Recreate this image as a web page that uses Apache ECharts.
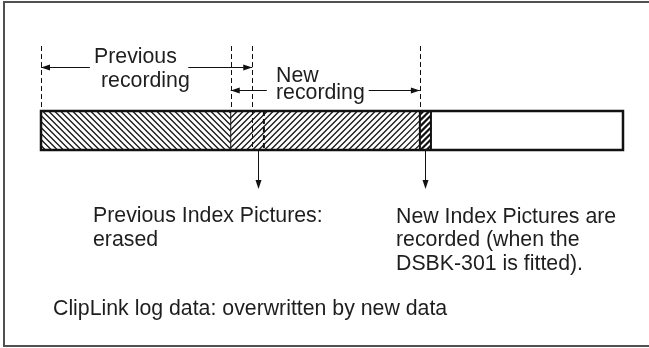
<!DOCTYPE html>
<html><head><meta charset="utf-8">
<script src="https://cdn.jsdelivr.net/npm/echarts@6/dist/echarts.min.js"></script>
<style>html,body{margin:0;padding:0;background:#fff}#c{width:649px;height:348px}</style>
</head><body><div id="c"></div>
<script>
// ---- data (tape position, 0..100 = full tape length) ----
const tapeLength = 100;
const previousRecording = [0, 36.3];
const newRecording = [32.6, 65.1];
const previousIndexPictures = [36.3, 38.3];
const newIndexPictures = [65.1, 67.0];
const spanLabelsPrev = ['Previous', 'recording'];
const spanLabelsNew = ['New', 'recording'];
const noteOldIndex = ['Previous Index Pictures:', 'erased'];
const noteNewIndex = ['New Index Pictures are', 'recorded (when the', 'DSBK-301 is fitted).'];
const noteLog = 'ClipLink log data: overwritten by new data';

// ---- layout ----
const BAR_TOP = 111, BAR_BOT = 150, GUIDE_TOP = 46;
const INK = '#111';
const FONT = '21.3px "Liberation Sans", Arial, sans-serif';
const TXT = '#1e1e1e';

const chart = echarts.init(document.getElementById('c'), null, {renderer: 'canvas'});
function px(api, v) { return api.coord([v, 0])[0]; }

function hatch(x0, x1, dir, lw) {
  const out = [];
  const h = BAR_BOT - BAR_TOP, step = 6;
  const kS = Math.floor((x0 - h) / step) - 1, kE = Math.ceil(x1 / step) + 1;
  for (let k = kS; k <= kE; k++) {
    const c = k * step + 0.5;
    const sx = Math.max(c, x0), ex = Math.min(c + h, x1);
    if (ex <= sx) continue;
    const yAt = x => dir === 0 ? BAR_TOP + (x - c) : BAR_BOT - (x - c);
    out.push({type: 'line', shape: {x1: sx, y1: yAt(sx), x2: ex, y2: yAt(ex)},
      style: {stroke: INK, lineWidth: lw}});
  }
  return out;
}

// segments: [start, end, kind] kind 0 = old (\\), 1 = new (//), 2 = new index (bold //)
const segments = [
  [previousRecording[0], newRecording[0], 0],
  [newRecording[0], newRecording[1], 1],
  [newIndexPictures[0], newIndexPictures[1], 2]
];
// guides above bar: [pos, extendsThroughBar]
const guides = [
  [previousRecording[0], 0],
  [newRecording[0], 0],
  [previousRecording[1], 1],
  [newRecording[1], 0]
];
// dividers in bar: [pos, width, dashed]
const dividers = [
  [newRecording[0], 1, 0],
  [previousIndexPictures[1], 2, 1],
  [newIndexPictures[0], 2, 0],
  [newIndexPictures[1], 2, 0]
];
// spans: [start, end, y, gapStart, gapEnd]
const spans = [
  [previousRecording[0], previousRecording[1], 67, 8.4, 25.3],
  [newRecording[0], newRecording[1], 90, 38.8, 56.3]
];
const pointers = [
  [(previousIndexPictures[0] + previousIndexPictures[1]) / 2],
  [(newIndexPictures[0] + newIndexPictures[1]) / 2]
];

function arrowHead(x, y, dx, dy) {
  const L = 9, W = 3;
  const bx = x - dx * L, by = y - dy * L;
  return {type: 'polygon', shape: {points: [[x, y], [bx - dy * W, by + dx * W], [bx + dy * W, by - dx * W]]},
    style: {fill: INK}};
}

const base = {type: 'custom', coordinateSystem: 'cartesian2d', animation: false, silent: true};

function t(text, x, baseline) {
  return {type: 'text', x: x, y: baseline - 7, style: {text: text, font: FONT, fill: TXT, verticalAlign: 'middle', align: 'left'}};
}

const texts = [
  t(spanLabelsPrev[0], 94, 64), t(spanLabelsPrev[1], 101, 88),
  t(spanLabelsNew[0], 276, 83), t(spanLabelsNew[1], 276, 100),
  t(noteOldIndex[0], 93, 223), t(noteOldIndex[1], 93, 247),
  t(noteNewIndex[0], 396, 224), t(noteNewIndex[1], 396, 247), t(noteNewIndex[2], 396, 271),
  t(noteLog, 53, 316)
];

chart.setOption({
  backgroundColor: '#fff',
  animation: false,
  grid: {left: 41, right: 26, top: 0, bottom: 0},
  xAxis: {type: 'value', min: 0, max: tapeLength, show: false},
  yAxis: {type: 'value', min: 0, max: 348, inverse: true, show: false},
  graphic: [{type: 'rect', shape: {x: 4, y: 2, width: 700, height: 344},
    style: {fill: 'none', stroke: '#505050', lineWidth: 2}}].concat(texts),
  series: [
    Object.assign({}, base, {data: segments, renderItem: function (p, api) {
      const x0 = px(api, api.value(0)), x1 = px(api, api.value(1)), k = api.value(2);
      return {type: 'group', children: hatch(x0, x1, k === 0 ? 0 : 1, k === 2 ? 2.2 : 1.2)};
    }}),
    Object.assign({}, base, {data: dividers, renderItem: function (p, api) {
      const x = px(api, api.value(0));
      return {type: 'line', shape: {x1: x, y1: BAR_TOP, x2: x, y2: BAR_BOT},
        style: {stroke: INK, lineWidth: api.value(1), lineDash: api.value(2) ? [5, 3] : null}};
    }}),
    Object.assign({}, base, {data: [[0, tapeLength]], renderItem: function (p, api) {
      const x0 = px(api, api.value(0)), x1 = px(api, api.value(1));
      return {type: 'rect', shape: {x: x0, y: BAR_TOP, width: x1 - x0, height: BAR_BOT - BAR_TOP},
        style: {fill: 'none', stroke: INK, lineWidth: 2.5}};
    }}),
    Object.assign({}, base, {data: guides, renderItem: function (p, api) {
      const x = Math.round(px(api, api.value(0))) + 0.5;
      return {type: 'line', shape: {x1: x, y1: GUIDE_TOP, x2: x, y2: api.value(1) ? BAR_BOT : BAR_TOP},
        style: {stroke: INK, lineWidth: 1, lineDash: [5, 3]}};
    }}),
    Object.assign({}, base, {data: spans, renderItem: function (p, api) {
      const xa = px(api, api.value(0)), xb = px(api, api.value(1)), y = api.value(2) + 0.5;
      const ga = px(api, api.value(3)), gb = px(api, api.value(4));
      return {type: 'group', children: [
        {type: 'line', shape: {x1: xa, y1: y, x2: ga, y2: y}, style: {stroke: INK, lineWidth: 1}},
        {type: 'line', shape: {x1: gb, y1: y, x2: xb, y2: y}, style: {stroke: INK, lineWidth: 1}},
        arrowHead(xa, y, -1, 0), arrowHead(xb, y, 1, 0)
      ]};
    }}),
    Object.assign({}, base, {data: pointers, renderItem: function (p, api) {
      const x = Math.round(px(api, api.value(0))) + 0.5;
      return {type: 'group', children: [
        {type: 'line', shape: {x1: x, y1: BAR_BOT + 1, x2: x, y2: 185}, style: {stroke: INK, lineWidth: 1}},
        arrowHead(x, 189, 0, 1)
      ]};
    }})
  ]
});
</script></body></html>
